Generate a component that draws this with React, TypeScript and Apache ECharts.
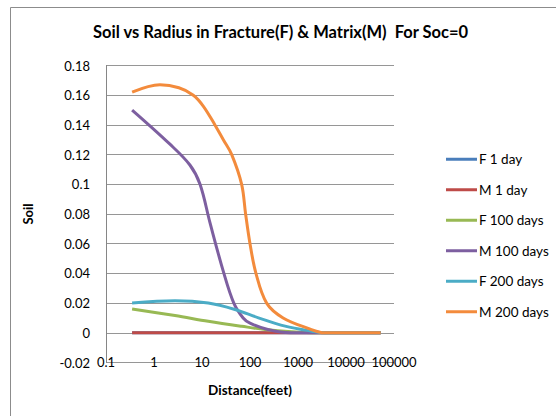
import React, { useEffect, useRef } from "react";
import * as echarts from "echarts";

const titleText = "Soil vs Radius in Fracture(F) & Matrix(M)  For Soc=0";
const xAxisName = "Distance(feet)";
const yAxisName = "Soil";

const seriesNames = ["F 1 day", "M 1 day", "F 100 days", "M 100 days", "F 200 days", "M 200 days"];
const seriesColors = ["#4A7EBB", "#BE4B48", "#98B954", "#7D5FA0", "#4BACC6", "#F38B3C"];

// distances (feet) and Soil values
const f1dayX = [0.35, 52800];
const f1dayY = [0, 0];
const m1dayX = [0.35, 52800];
const m1dayY = [0, 0];
const f100daysX = [0.35, 2.74, 13.5, 67, 206, 740, 2500, 52800];
const f100daysY = [0.016, 0.0116, 0.0078, 0.0044, 0.0022, 0.0007, 0, 0];
const m100daysX = [0.35, 2.15, 5.6, 9.1, 14.7, 28, 46, 72, 100, 236, 700, 52800];
const m100daysY = [0.15, 0.127, 0.113, 0.1, 0.074, 0.041, 0.02, 0.01, 0.0065, 0.0022, 0, 0];
const f200daysX = [0.35, 2.74, 13.5, 48.5, 150, 540, 1930, 3600, 52800];
const f200daysY = [0.02, 0.0215, 0.02, 0.0157, 0.0101, 0.0045, 0.0011, 0, 0];
const m200daysX = [0.35, 1.33, 3.3, 6.59, 10.6, 18.6, 27.8, 41.6, 67, 81, 100, 133, 222, 490, 1630, 3600, 52800];
const m200daysY = [0.162, 0.167, 0.165, 0.16, 0.1527, 0.14, 0.13, 0.12, 0.1, 0.08, 0.06, 0.04, 0.02, 0.01, 0.003, 0, 0];

const allX = [f1dayX, m1dayX, f100daysX, m100daysX, f200daysX, m200daysX];
const allY = [f1dayY, m1dayY, f100daysY, m100daysY, f200daysY, m200daysY];

const yTicks = { min: -0.02, max: 0.18, interval: 0.02 };
const xTicks = { min: 0.1, max: 100000 };

const FONT = "Lato, 'Open Sans', sans-serif";

export default function App() {
  const ref = useRef<HTMLDivElement>(null);
  useEffect(() => {
    if (!ref.current) return;
    const chart = echarts.init(ref.current, null, { renderer: "svg" });
    const series = seriesNames.map((name, i) => ({
      name,
      type: "line",
      data: allX[i].map((d, j) => [d, allY[i][j]]),
      showSymbol: false,
      symbol: "none",
      smooth: 0.35,
      lineStyle: { color: seriesColors[i], width: 3 },
      itemStyle: { color: seriesColors[i] },
    }));
    chart.setOption({
      animation: false,
      backgroundColor: "#ffffff",
      textStyle: { fontFamily: FONT },
      title: {
        text: titleText,
        left: 88,
        top: 18,
        textStyle: { fontFamily: FONT, fontSize: 16.5, fontWeight: "bold", color: "#000" },
      },
      graphic: [
        {
          type: "rect",
          shape: { x: 10.5, y: 7.5, width: 600, height: 500 },
          style: { fill: "none", stroke: "#8c8c8c", lineWidth: 1 },
          silent: true,
        },
      ],
      legend: {
        orient: "vertical",
        left: 441,
        top: 147,
        icon: "rect",
        itemWidth: 31,
        itemHeight: 3,
        itemGap: 16,
        data: seriesNames,
        textStyle: { fontFamily: FONT, fontSize: 13.5, color: "#000", lineHeight: 14.5, padding: [0, 0, 0, -3] },
      },
      grid: { left: 106, right: 162, top: 65.5, bottom: 53.5, containLabel: false },
      xAxis: {
        type: "log",
        logBase: 10,
        min: xTicks.min,
        max: xTicks.max,
        name: xAxisName,
        nameLocation: "middle",
        nameGap: 20,
        nameTextStyle: { fontFamily: FONT, fontSize: 13.5, fontWeight: "bold", color: "#000" },
        axisLine: { show: false },
        axisTick: { show: false },
        splitLine: { show: false },
        axisLabel: {
          fontFamily: FONT,
          fontSize: 13,
          color: "#000",
          margin: -7,
          formatter: (v: number) => String(Math.round(v * 10) / 10),
        },
      },
      yAxis: {
        type: "value",
        min: yTicks.min,
        max: yTicks.max,
        interval: yTicks.interval,
        name: yAxisName,
        nameLocation: "middle",
        nameGap: 72,
        nameRotate: 90,
        nameTextStyle: { fontFamily: FONT, fontSize: 13, fontWeight: "bold", color: "#000" },
        axisLine: { show: true, lineStyle: { color: "#868686", width: 1 } },
        axisTick: { show: false },
        splitLine: { show: true, lineStyle: { color: "#969696", width: 1 } },
        axisLabel: {
          fontFamily: FONT,
          fontSize: 13,
          color: "#000",
          margin: 16,
          formatter: (v: number) => String(Math.round(v * 100) / 100),
        },
      },
      series,
    });
    return () => chart.dispose();
  }, []);
  return (
    <div
      ref={ref}
      style={{ position: "fixed", left: 0, top: 0, width: 556, height: 416, background: "#fff" }}
    />
  );
}
